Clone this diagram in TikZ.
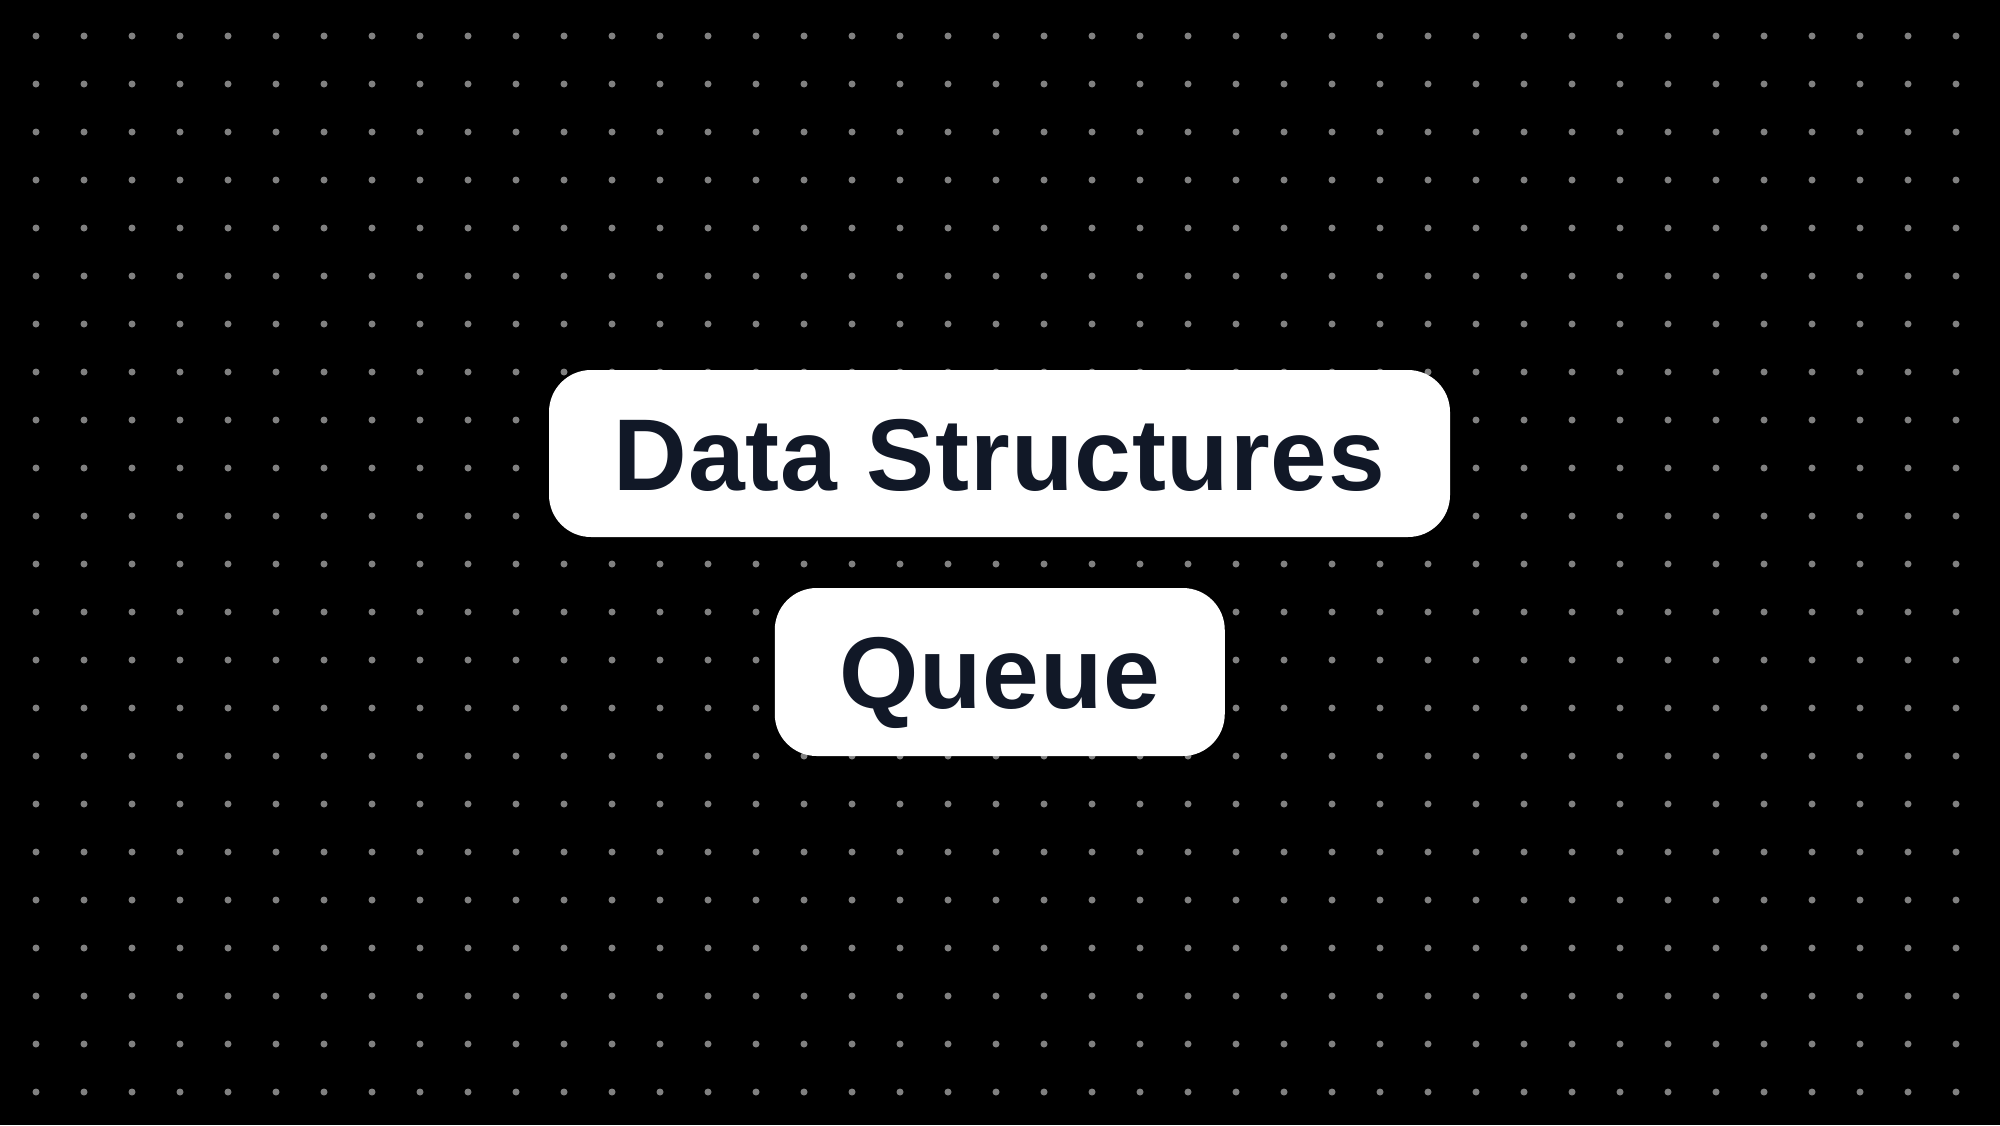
\documentclass[tikz,border=0pt]{standalone}
\usepackage{fontspec}
\setmainfont{Liberation Sans}
\newfontfamily\labelfont[LetterSpace=0.9]{Liberation Sans}
\definecolor{ink}{HTML}{111827}
\definecolor{dotc}{HTML}{808080}
\begin{document}
\begin{tikzpicture}[x=0.5pt,y=-0.5pt,
  box/.style={fill=white, rounded corners=21pt, inner sep=0pt, text=ink,
    font=\labelfont\fontsize{51}{61}\selectfont\bfseries, text height=36.5pt, text depth=0pt},
  griddot/.style={fill=dotc}]
\fill[black] (0,0) rectangle (2000,1125);
\useasboundingbox (0,0) rectangle (2000,1125);
\foreach \i in {0,...,40} {
  \foreach \j in {0,...,22} {
    \fill[griddot] (36+48*\i,36+48*\j) circle[radius=1.75pt];
  }
}
\node[box, minimum width=450.5pt, minimum height=83.5pt] (ds) at (999.5,453.5) {Data Structures};
\node[box, minimum width=225pt, minimum height=84pt] (q) at (999.75,672) {Queue};
\end{tikzpicture}
\end{document}
